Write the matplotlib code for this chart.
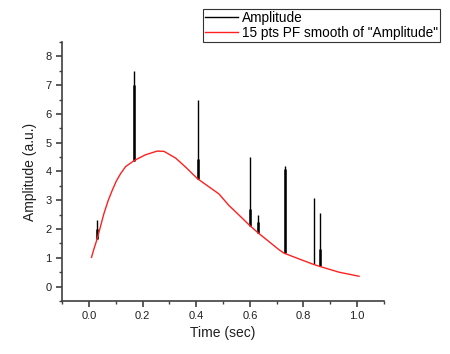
import numpy as np
import matplotlib.pyplot as plt

plt.rcParams['font.family'] = ['Liberation Sans', 'DejaVu Sans']

# smooth curve (red)
smooth_t = [0.010, 0.019, 0.031, 0.056, 0.072, 0.087, 0.102, 0.118, 0.137,
            0.169, 0.211, 0.255, 0.280, 0.323, 0.361, 0.405, 0.485, 0.522,
            0.547, 0.600, 0.632, 0.709, 0.728, 0.784, 0.838, 0.861, 0.933,
            1.007]
smooth_v = [1.02, 1.31, 1.66, 2.53, 2.99, 3.34, 3.66, 3.92, 4.17,
            4.38, 4.58, 4.71, 4.70, 4.47, 4.15, 3.75, 3.22, 2.82,
            2.60, 2.12, 1.86, 1.28, 1.16, 0.96, 0.77, 0.70, 0.50,
            0.36]

# spikes of the raw "Amplitude" signal
spike_t = [0.031, 0.169, 0.405, 0.600, 0.632, 0.730, 0.838, 0.861]
spike_base = [1.66, 4.38, 3.75, 2.12, 1.86, 1.16, 0.77, 0.70]
spike_mid = [2.00, 7.00, 4.42, 2.70, 2.26, 4.10, 0.77, 1.29]
spike_top = [2.30, 7.49, 6.49, 4.50, 2.49, 4.20, 3.09, 2.57]

fig = plt.figure(figsize=(4.5, 3.54), dpi=100)
ax = fig.add_axes([0.1378, 0.1497, 0.7155, 0.7317])

ax.vlines(spike_t, spike_base, spike_top, color='black', lw=1.0)
ax.vlines(spike_t, spike_base, spike_mid, color='black', lw=1.8)
ax.plot([], [], color='black', lw=1.0, label='Amplitude')
ax.plot(smooth_t, smooth_v, color='#ff2020', lw=1.0,
        label='15 pts PF smooth of "Amplitude"')

ax.set_xlim(-0.1, 1.1)
ax.set_ylim(-0.5, 8.5)
ax.set_xticks(np.arange(0, 1.01, 0.2))
ax.set_xticks(np.arange(-0.1, 1.11, 0.1), minor=True)
ax.set_yticks(range(0, 9))
ax.set_yticks(np.arange(-0.5, 8.51, 0.5), minor=True)
ax.xaxis.set_major_formatter(plt.FormatStrFormatter('%.1f'))

for s in ['top', 'right']:
    ax.spines[s].set_visible(False)
for s in ['left', 'bottom']:
    ax.spines[s].set_color('#404040')
    ax.spines[s].set_linewidth(1.2)
ax.tick_params(which='major', direction='out', length=4, width=1.2,
               color='#404040', labelsize=8, labelcolor='#202020')
ax.tick_params(which='minor', direction='out', length=2, width=1.0,
               color='#404040')

ax.set_xlabel('Time (sec)', fontsize=10, color='#202020', labelpad=3)
ax.set_ylabel('Amplitude (a.u.)', fontsize=10, color='#202020', labelpad=6)

leg = fig.legend(loc='upper right', bbox_to_anchor=(440 / 450, 1 - 9 / 354),
                 fontsize=9.8, frameon=True, fancybox=False, borderaxespad=0,
                 handlelength=2.4, handletextpad=0.3, borderpad=0.15,
                 labelspacing=0.05)
leg.get_frame().set_edgecolor('black')
leg.get_frame().set_linewidth(0.8)

fig.savefig('out.png', dpi=100)
